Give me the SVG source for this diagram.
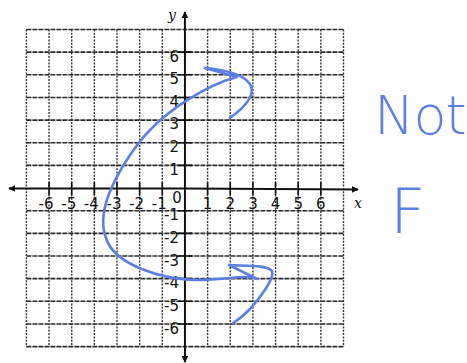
<svg xmlns="http://www.w3.org/2000/svg" width="467" height="363" viewBox="0 0 467 363">
<style>
.h{stroke:#2a2a2a;stroke-width:1.6;stroke-dasharray:5 1;fill:none}
.v{stroke:#333;stroke-width:1.4;stroke-dasharray:2 1.3;fill:none}
.ax{stroke:#111;stroke-width:2;fill:none}
.tk{stroke:#111;stroke-width:1.6}
.lb{font-family:"DejaVu Sans",Verdana,sans-serif;font-size:15px;fill:#111}
.al{font-family:"DejaVu Serif","Liberation Serif",serif;font-style:italic;font-size:14px;fill:#111}
.ink{stroke:#5b7fe3;stroke-width:2.6;fill:none;stroke-linecap:round;stroke-linejoin:round}
.hw{font-family:"DejaVu Sans",sans-serif;font-weight:200;fill:#5b7fe3}
</style>
<defs>
<marker id="ah" viewBox="0 0 10 10" refX="9" refY="5" markerWidth="7" markerHeight="7" orient="auto" markerUnits="userSpaceOnUse">
<path d="M0,0 L10,5 L0,10 z" fill="#111"/>
</marker>
</defs>
<rect width="467" height="363" fill="#fff"/>
<g id="grid">
<g id="hlines">
<line class="h" x1="26.4" y1="29.5" x2="343.5" y2="29.5"/>
<line class="h" x1="26.4" y1="52.15" x2="343.5" y2="52.15"/>
<line class="h" x1="26.4" y1="74.8" x2="343.5" y2="74.8"/>
<line class="h" x1="26.4" y1="97.45" x2="343.5" y2="97.45"/>
<line class="h" x1="26.4" y1="120.1" x2="343.5" y2="120.1"/>
<line class="h" x1="26.4" y1="142.75" x2="343.5" y2="142.75"/>
<line class="h" x1="26.4" y1="165.4" x2="343.5" y2="165.4"/>
<line class="h" x1="26.4" y1="210.7" x2="343.5" y2="210.7"/>
<line class="h" x1="26.4" y1="233.35" x2="343.5" y2="233.35"/>
<line class="h" x1="26.4" y1="256" x2="343.5" y2="256"/>
<line class="h" x1="26.4" y1="278.65" x2="343.5" y2="278.65"/>
<line class="h" x1="26.4" y1="301.3" x2="343.5" y2="301.3"/>
<line class="h" x1="26.4" y1="323.95" x2="343.5" y2="323.95"/>
<line class="h" x1="26.4" y1="346.6" x2="343.5" y2="346.6"/>
</g>
<g id="vlines">
<line class="v" x1="26.4" y1="29.5" x2="26.4" y2="346.6"/>
<line class="v" x1="49.05" y1="29.5" x2="49.05" y2="346.6"/>
<line class="v" x1="71.7" y1="29.5" x2="71.7" y2="346.6"/>
<line class="v" x1="94.35" y1="29.5" x2="94.35" y2="346.6"/>
<line class="v" x1="117" y1="29.5" x2="117" y2="346.6"/>
<line class="v" x1="139.65" y1="29.5" x2="139.65" y2="346.6"/>
<line class="v" x1="162.3" y1="29.5" x2="162.3" y2="346.6"/>
<line class="v" x1="207.6" y1="29.5" x2="207.6" y2="346.6"/>
<line class="v" x1="230.25" y1="29.5" x2="230.25" y2="346.6"/>
<line class="v" x1="252.9" y1="29.5" x2="252.9" y2="346.6"/>
<line class="v" x1="275.55" y1="29.5" x2="275.55" y2="346.6"/>
<line class="v" x1="298.2" y1="29.5" x2="298.2" y2="346.6"/>
<line class="v" x1="320.85" y1="29.5" x2="320.85" y2="346.6"/>
<line class="v" x1="343.5" y1="29.5" x2="343.5" y2="346.6"/>
</g>
</g>
<g id="axes">
<line class="ax" x1="184.95" y1="188.5" x2="9" y2="188.5" marker-end="url(#ah)"/>
<line class="ax" x1="184.95" y1="188.5" x2="358" y2="189.5" marker-end="url(#ah)"/>
<line class="ax" x1="184.95" y1="188.5" x2="184.95" y2="12" marker-end="url(#ah)"/>
<line class="ax" x1="184.95" y1="188.5" x2="184.95" y2="362" marker-end="url(#ah)"/>
<g id="ticks">
<path class="tk" d="M178,52.15h14M178,74.8h14M178,97.45h14M178,120.1h14M178,142.75h14M178,165.4h14M178,210.7h14M178,233.35h14M178,256h14M178,278.65h14M178,301.3h14M178,323.95h14"/>
<path class="tk" d="M49.05,182v13M71.7,182v13M94.35,182v13M117,182v13M139.65,182v13M162.3,182v13M207.6,182v13M230.25,182v13M252.9,182v13M275.55,182v13M298.2,182v13M320.85,182v13"/>
</g>
<text class="al" x="168" y="20">y</text>
<text class="al" x="354" y="208">x</text>
</g>
<g id="labels" class="lb">
<g text-anchor="end">
<text x="179" y="61.5">6</text>
<text x="179" y="84">5</text>
<text x="179" y="106.5">4</text>
<text x="179" y="129">3</text>
<text x="179" y="152">2</text>
<text x="179" y="174.5">1</text>
<text x="179" y="220">-1</text>
<text x="179" y="243">-2</text>
<text x="179" y="265.5">-3</text>
<text x="179" y="288">-4</text>
<text x="179" y="311">-5</text>
<text x="179" y="333.5">-6</text>
<text x="53.5" y="208.5">-6</text>
<text x="76.2" y="208.5">-5</text>
<text x="98.8" y="208.5">-4</text>
<text x="121.5" y="208.5">-3</text>
<text x="144.1" y="208.5">-2</text>
<text x="166.8" y="208.5">-1</text>
</g>
<g text-anchor="middle">
<text x="177" y="203">0</text>
<text x="207.6" y="208.5">1</text>
<text x="230.25" y="208.5">2</text>
<text x="252.9" y="208.5">3</text>
<text x="275.55" y="208.5">4</text>
<text x="298.2" y="208.5">5</text>
<text x="320.85" y="208.5">6</text>
</g>
</g>
<g id="curve">
<path class="ink" d="M205,68 C228,70 246,76 251,86 C255,97 241,110 230,118"/>
<path class="ink" d="M205,68 L237,77 C210,84 162,110 135,148 C115,176 96,212 106,238 C114,264 160,280 200,280 C225,280 245,274 257,279 L229,265 C248,266 267,265 272,271 C275,278 260,298 250,309 C243,316 238,320 233,323"/>
</g>
<g id="note">
<text class="hw" x="374" y="134" font-size="54" letter-spacing="-1">Not</text>
<text class="hw" x="390" y="233" font-size="62">F</text>
</g>
</svg>
